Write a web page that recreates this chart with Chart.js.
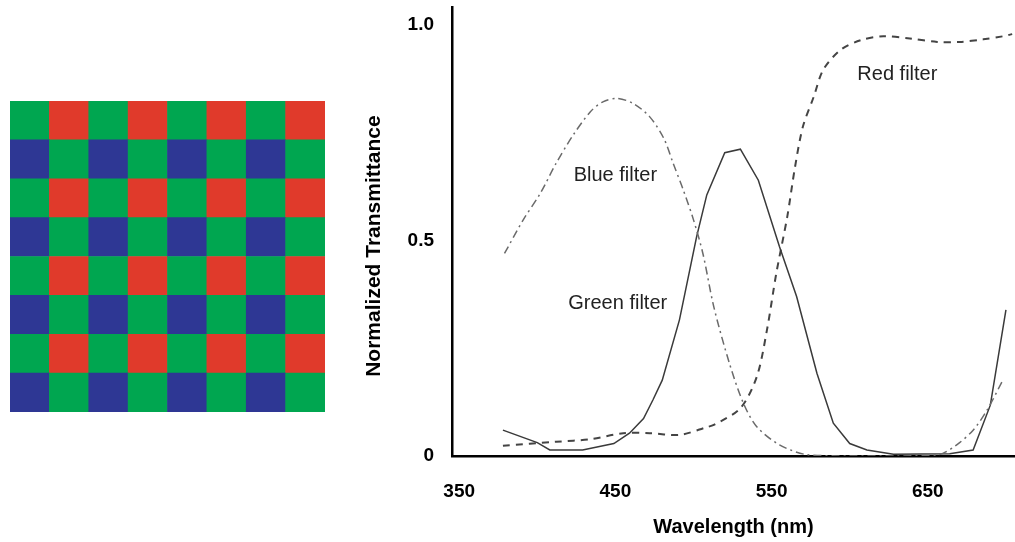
<!DOCTYPE html>
<html>
<head>
<meta charset="utf-8">
<title>Bayer filter transmittance</title>
<script src="https://cdn.jsdelivr.net/npm/chart.js@4.4.0/dist/chart.umd.min.js"></script>
<style>
  body { margin: 0; background: #fff; }
  #bayer { position: absolute; left: 10px; top: 101px; }
  #spectra { position: absolute; left: 340px; top: 0; }
</style>
</head>
<body>
<canvas id="bayer" width="315" height="311"></canvas>
<canvas id="spectra" width="675" height="542"></canvas>
<script>
// Bayer mosaic, top row first (G = green, R = red, B = blue)
const bayerRows = ["GRGRGRGR", "BGBGBGBG", "GRGRGRGR", "BGBGBGBG",
                   "GRGRGRGR", "BGBGBGBG", "GRGRGRGR", "BGBGBGBG"];
const bayerColumns = ["1", "2", "3", "4", "5", "6", "7", "8"];

// filter curves
const greenWavelengths = [378, 400, 408, 429, 449, 459, 468, 474, 480, 491, 502, 508.5, 520, 530, 541.5,
  555, 566, 579, 589.5, 600, 611, 628, 664, 679, 690, 700];
const greenValues = [0.06, 0.031, 0.014, 0.014, 0.029, 0.053, 0.087, 0.13, 0.176, 0.316, 0.509, 0.606, 0.704, 0.712, 0.64,
  0.486, 0.37, 0.192, 0.076, 0.029, 0.014, 0.004, 0.005, 0.014, 0.118, 0.339];

const blueWavelengths = [379, 391, 402, 412, 423, 434, 442, 451, 461.5, 472, 481, 487, 493.5, 500, 506,
  513, 523, 532, 540.5, 555, 572.5, 600, 630, 657, 668.5, 679, 688, 698];
const blueValues = [0.47, 0.548, 0.61, 0.679, 0.745, 0.799, 0.822, 0.83, 0.818, 0.787, 0.737, 0.679, 0.617, 0.548, 0.47,
  0.346, 0.215, 0.122, 0.068, 0.026, 0.003, 0.0, 0.0, 0.003, 0.026, 0.06, 0.107, 0.176];

const redWavelengths = [378, 412, 434, 455, 472, 491, 508.5, 513, 530, 540.5, 547, 553, 560, 565, 570,
  577, 583, 594, 607, 621.5, 638.5, 656, 670.5, 685.5, 698, 704];
const redValues = [0.024, 0.033, 0.039, 0.053, 0.053, 0.049, 0.067, 0.072, 0.111, 0.184, 0.292, 0.424, 0.555, 0.671, 0.764,
  0.834, 0.896, 0.942, 0.965, 0.974, 0.969, 0.961, 0.961, 0.967, 0.974, 0.979];

const filterNames = ["Blue filter", "Green filter", "Red filter"];
const filterLabelWavelengths = [450, 451.5, 630.5];
const filterLabelValues = [0.65, 0.353, 0.886];

const xTicks = [350, 450, 550, 650];
const yTicks = [0, 0.5, 1.0];

const FONT = "'Liberation Sans', Arial, Helvetica, sans-serif";
const cellColors = { G: "#00a650", R: "#e03a2b", B: "#2e3794" };

// ---------- Bayer mosaic as a stacked bar chart ----------
const bottomUp = bayerRows.slice().reverse();
new Chart(document.getElementById("bayer"), {
  type: "bar",
  data: {
    labels: bayerColumns,
    datasets: bottomUp.map((row) => ({
      data: row.split("").map(() => 1),
      backgroundColor: row.split("").map((c) => cellColors[c]),
      borderWidth: 0,
      barPercentage: 1,
      categoryPercentage: 1,
    })),
  },
  options: {
    responsive: false,
    animation: false,
    layout: { padding: 0 },
    plugins: { legend: { display: false }, tooltip: { enabled: false } },
    scales: {
      x: { stacked: true, display: false },
      y: { stacked: true, display: false, min: 0, max: bayerRows.length },
    },
  },
});

// ---------- transmittance curves ----------
const toPoints = (xs, ys) => xs.map((x, i) => ({ x, y: ys[i] }));

const filterLabels = {
  id: "filterLabels",
  afterDatasetsDraw(chart) {
    const { ctx, scales } = chart;
    ctx.save();
    ctx.font = "20px " + FONT;
    ctx.fillStyle = "#222";
    ctx.textAlign = "center";
    ctx.textBaseline = "middle";
    filterNames.forEach((name, i) => {
      ctx.fillText(name,
        scales.x.getPixelForValue(filterLabelWavelengths[i]),
        scales.y.getPixelForValue(filterLabelValues[i]));
    });
    ctx.restore();
  },
};

new Chart(document.getElementById("spectra"), {
  type: "line",
  data: {
    datasets: [
      {
        label: "Blue filter",
        data: toPoints(blueWavelengths, blueValues),
        borderColor: "#6a6a6a",
        borderWidth: 1.5,
        borderDash: [8, 4, 2, 4],
        tension: 0.3,
        pointRadius: 0,
      },
      {
        label: "Green filter",
        data: toPoints(greenWavelengths, greenValues),
        borderColor: "#3a3a3a",
        borderWidth: 1.5,
        tension: 0,
        pointRadius: 0,
      },
      {
        label: "Red filter",
        data: toPoints(redWavelengths, redValues),
        borderColor: "#444",
        borderWidth: 2,
        borderDash: [7, 6],
        tension: 0.3,
        pointRadius: 0,
      },
    ],
  },
  options: {
    responsive: false,
    animation: false,
    layout: { padding: { top: 7, right: 0, left: 0, bottom: 0 } },
    plugins: { legend: { display: false }, tooltip: { enabled: false } },
    scales: {
      x: {
        type: "linear",
        min: 345.4,
        max: 705.8,
        grid: { display: false },
        border: { display: true, color: "#000", width: 2.5 },
        afterBuildTicks: (scale) => { scale.ticks = xTicks.map((v) => ({ value: v })); },
        afterFit: (scale) => {
          scale.height = 86;
          scale.paddingLeft = 0;
          scale.paddingRight = 0;
        },
        ticks: {
          padding: 16,
          color: "#000",
          font: { family: FONT, size: 19, weight: "bold" },
          maxRotation: 0,
        },
        title: {
          display: true,
          text: "Wavelength (nm)",
          color: "#000",
          font: { family: FONT, size: 20, weight: "bold" },
          padding: { top: 0, bottom: 3 },
        },
      },
      y: {
        min: 0,
        max: 1.042,
        grid: { display: false },
        border: { display: true, color: "#000", width: 2.5 },
        afterBuildTicks: (scale) => { scale.ticks = yTicks.map((v) => ({ value: v })); },
        afterFit: (scale) => {
          scale.width = 112;
          scale.paddingTop = 0;
          scale.paddingBottom = 0;
        },
        ticks: {
          padding: 10,
          color: "#000",
          font: { family: FONT, size: 19, weight: "bold" },
          callback: (v) => (v === 0 ? "0" : v.toFixed(1)),
        },
        title: {
          display: true,
          text: "Normalized Transmittance     ",
          color: "#000",
          font: { family: FONT, size: 21, weight: "bold" },
          padding: { top: 22, bottom: 0 },
        },
      },
    },
  },
  plugins: [filterLabels],
});
</script>
</body>
</html>
